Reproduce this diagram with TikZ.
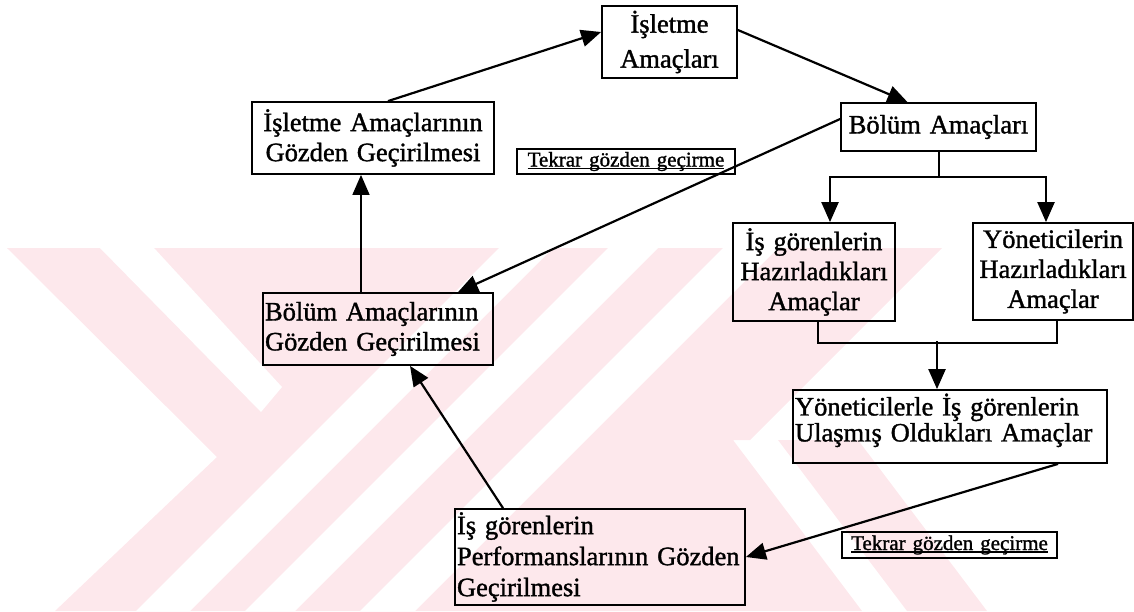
\documentclass[tikz,border=0pt]{standalone}
\usepackage{fontspec}
\setmainfont{Liberation Serif}[FakeBold=1.3]
\usetikzlibrary{arrows.meta,calc}
\definecolor{wm}{RGB}{253,232,236}
\newcommand{\tul}[1]{\leavevmode\setbox0\hbox{#1}\rlap{\rule[-2.6pt]{\wd0}{1.3pt}}\box0}
\begin{document}
\begin{tikzpicture}[x=1pt,y=-1pt,
  box/.style={draw, line width=1.8pt, rectangle, inner xsep=2pt, inner ysep=0pt,
              font=\fontsize{26.5}{30}\selectfont},
  tk/.style={draw, line width=1.8pt, rectangle, inner xsep=2pt, inner ysep=0pt,
             minimum height=25pt, align=center, font=\fontsize{21}{24}\selectfont},
  arr/.style={line width=2.2pt, -{Triangle[length=20pt,width=17pt]}},
  thinarr/.style={line width=1.5pt, -{Triangle[length=20pt,width=17pt]}},
  ln/.style={line width=2pt}]
\useasboundingbox (0,0) rectangle (1134,611);
% faint watermark
\fill[wm] (7,248) -- (942,248) -- (750,440) -- (733,440) -- (862,611) -- (55,611) -- (217,457) -- cycle;
\fill[wm] (778,440) -- (858,440) -- (987,611) -- (907,611) -- cycle;
\fill[white] (100,248) -- (154,248) -- (282,387) -- (261,412) -- cycle;
\fill[white] (136,611) -- (190,611) -- (553,248) -- (499,248) -- cycle;
\fill[white] (245,611) -- (295,611) -- (658,248) -- (608,248) -- cycle;
\fill[white] (360,611) -- (415,611) -- (778,248) -- (723,248) -- cycle;
% boxes
\node[box, text width=131pt, minimum height=72pt, align=center,
      font=\fontsize{26.5}{35}\selectfont] (iam) at (669.5,42) {\mbox{İşletme}\\\mbox{Amaçları}};
\node[box, text width=238pt, minimum height=72pt, align=center] (iamg) at (373,138)
  {\mbox{İşletme Amaçlarının}\\\mbox{Gözden Geçirilmesi}};
\node[box, text width=191pt, minimum height=48pt, align=center] (bam) at (938.5,127) {\mbox{Bölüm Amaçları}};
\node[tk, text width=214pt] (t1) at (626,161.5) {\tul{Tekrar gözden geçirme}};
\node[box, text width=158pt, minimum height=98pt, align=center] (ig) at (814,272)
  {\mbox{İş görenlerin}\\\mbox{Hazırladıkları}\\\mbox{Amaçlar}};
\node[box, text width=156pt, minimum height=97pt, align=center] (yh) at (1053,271.5)
  {\mbox{Yöneticilerin}\\\mbox{Hazırladıkları}\\\mbox{Amaçlar}};
\node[box, text width=226pt, minimum height=72pt, align=left] (bamg) at (378,329)
  {\mbox{Bölüm Amaçlarının}\\\mbox{Gözden Geçirilmesi}};
\node[box, text width=310pt, minimum height=73pt, align=left,
      font=\fontsize{26.5}{26}\selectfont] (yo) at (950,426.5)
  {\mbox{Yöneticilerle İş görenlerin}\\\mbox{Ulaşmış Oldukları Amaçlar}\rule[-18pt]{0pt}{1pt}};
\node[box, text width=286pt, minimum height=96pt, align=left,
      font=\fontsize{26.5}{31}\selectfont] (perf) at (600,557)
  {\mbox{İş görenlerin}\\\mbox{Performanslarının Gözden}\\\mbox{Geçirilmesi}};
\node[tk, text width=211pt, minimum height=26pt] (t2) at (949.5,545) {\tul{Tekrar gözden geçirme}};
% connectors
\draw[arr] ($(iamg.north)+(15,0)$) -- ($(iam.west)+(0,-10)$);
\draw[arr] ($(iam.east)+(0,-12)$) -- ($(bam.north)+(-31,0)$);
\draw[arr] ($(bam.west)+(0,-8)$) -- ($(bamg.north)+(80,0)$);
\draw[thinarr] ($(bamg.north)+(-17,0)$) -- ($(iamg.south)+(-12,0)$);
\draw[arr] ($(perf.north)+(-97,0)$) -- ($(bamg.south)+(32,0)$);
\draw[arr] ($(yo.south)+(108,0)$) -- (perf.east);
\coordinate (sp) at ($(bam.south)+(0,25)$);
\draw[ln] (bam.south) -- (sp);
\draw[arr] (sp) -| ($(ig.north)+(16,0)$);
\draw[arr] (sp) -| ($(yh.north)+(-7,0)$);
\draw[ln] ($(ig.south)+(4,0)$) -- ++(0,21) -| ($(yh.south)+(4,0)$);
\coordinate (jn) at ($(yo.north)+(-13,-48)$);
\draw[arr] (jn) -- ($(yo.north)+(-13,0)$);
\end{tikzpicture}
\end{document}
